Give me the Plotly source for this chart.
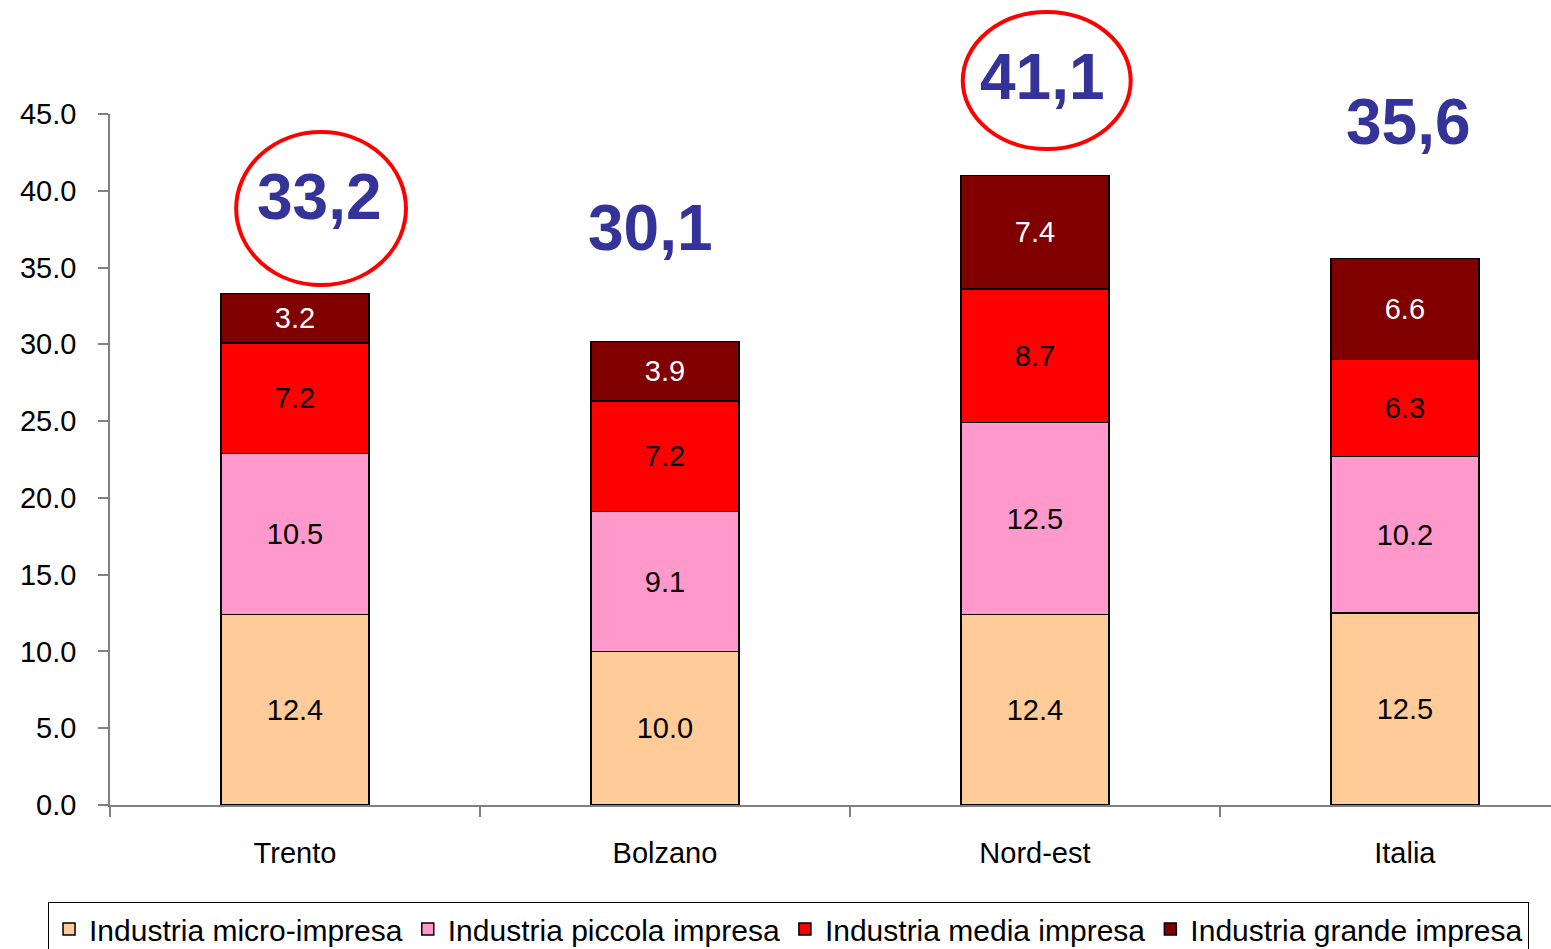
import plotly.graph_objects as go

categories = ["Trento", "Bolzano", "Nord-est", "Italia"]
micro = [12.4, 10.0, 12.4, 12.5]
piccola = [10.5, 9.1, 12.5, 10.2]
media = [7.2, 7.2, 8.7, 6.3]
grande = [3.2, 3.9, 7.4, 6.6]
totals_text = ["33,2", "30,1", "41,1", "35,6"]
# label anchor positions (data units)
totals_x = [0.065, 0.96, 2.02, 3.01]
totals_y = [39.6, 37.6, 47.4, 44.5]
circled = [True, False, True, False]

series = [
    ("Industria micro-impresa", micro, "#FFCC99", "black"),
    ("Industria piccola impresa", piccola, "#FF99CC", "black"),
    ("Industria media impresa", media, "#FF0000", "black"),
    ("Industria grande impresa", grande, "#800000", "white"),
]

FONT = "Liberation Sans, Arial, sans-serif"
YMAX = 45

fig = go.Figure()
for name, vals, color, tcolor in series:
    fig.add_trace(go.Bar(
        name=name, x=categories, y=vals, width=0.40,
        marker=dict(color=color, line=dict(color="black", width=1.5)),
        text=[f"{v:.1f}" for v in vals], textposition="inside",
        insidetextanchor="middle", textangle=0, constraintext="none",
        textfont=dict(family=FONT, size=29, color=tcolor),
        hoverinfo="skip",
    ))

for i, t in enumerate(totals_text):
    fig.add_annotation(x=totals_x[i], y=totals_y[i] / YMAX, xref="x", yref="paper",
                       text=f"<b>{t}</b>", showarrow=False,
                       font=dict(family=FONT, size=64, color="#333399"),
                       xanchor="center", yanchor="middle")

# ellipses around highlighted totals
ell = {0: (-0.159, 0.30, 33.86, 43.83), 2: (1.805, 2.259, 42.72, 51.64)}
for i, (x0, x1, y0, y1) in ell.items():
    if circled[i]:
        fig.add_shape(type="circle", xref="x", yref="paper",
                      x0=x0, x1=x1, y0=y0 / YMAX, y1=y1 / YMAX,
                      line=dict(color="#FF0000", width=4), layer="above")

fig.update_layout(
    width=1551, height=949,
    margin=dict(l=110, r=0, t=114, b=144, pad=0, autoexpand=False),
    barmode="stack", bargap=0.6,
    paper_bgcolor="white", plot_bgcolor="white",
    font=dict(family=FONT, size=29, color="black"),
    showlegend=True,
    legend=dict(orientation="h", x=-0.043, y=-0.1404, xanchor="left", yanchor="top",
                bordercolor="black", borderwidth=1, bgcolor="white",
                font=dict(family=FONT, size=30, color="black"),
                traceorder="normal", itemclick=False, itemdoubleclick=False),
)
fig.update_xaxes(
    type="category", range=[-0.5, 3.395], showline=True, linecolor="#808080", linewidth=1.5,
    ticks="outside", tickson="boundaries", ticklen=10, tickcolor="#808080", tickwidth=1.5,
    showgrid=False, zeroline=False, ticklabelstandoff=21,
    tickfont=dict(family=FONT, size=29, color="black"),
)
fig.update_yaxes(
    range=[0, YMAX], dtick=5, tick0=0, tickformat=".1f", showline=True,
    linecolor="#808080", linewidth=1.5, ticks="outside", ticklen=10,
    tickcolor="#808080", tickwidth=1.5, showgrid=False, zeroline=False,
    ticklabelstandoff=16,
    tickfont=dict(family=FONT, size=29, color="black"),
)

fig.write_html("out.html", config={"displayModeBar": False},
               post_script="document.body.style.margin='0';document.body.style.overflow='hidden';")
